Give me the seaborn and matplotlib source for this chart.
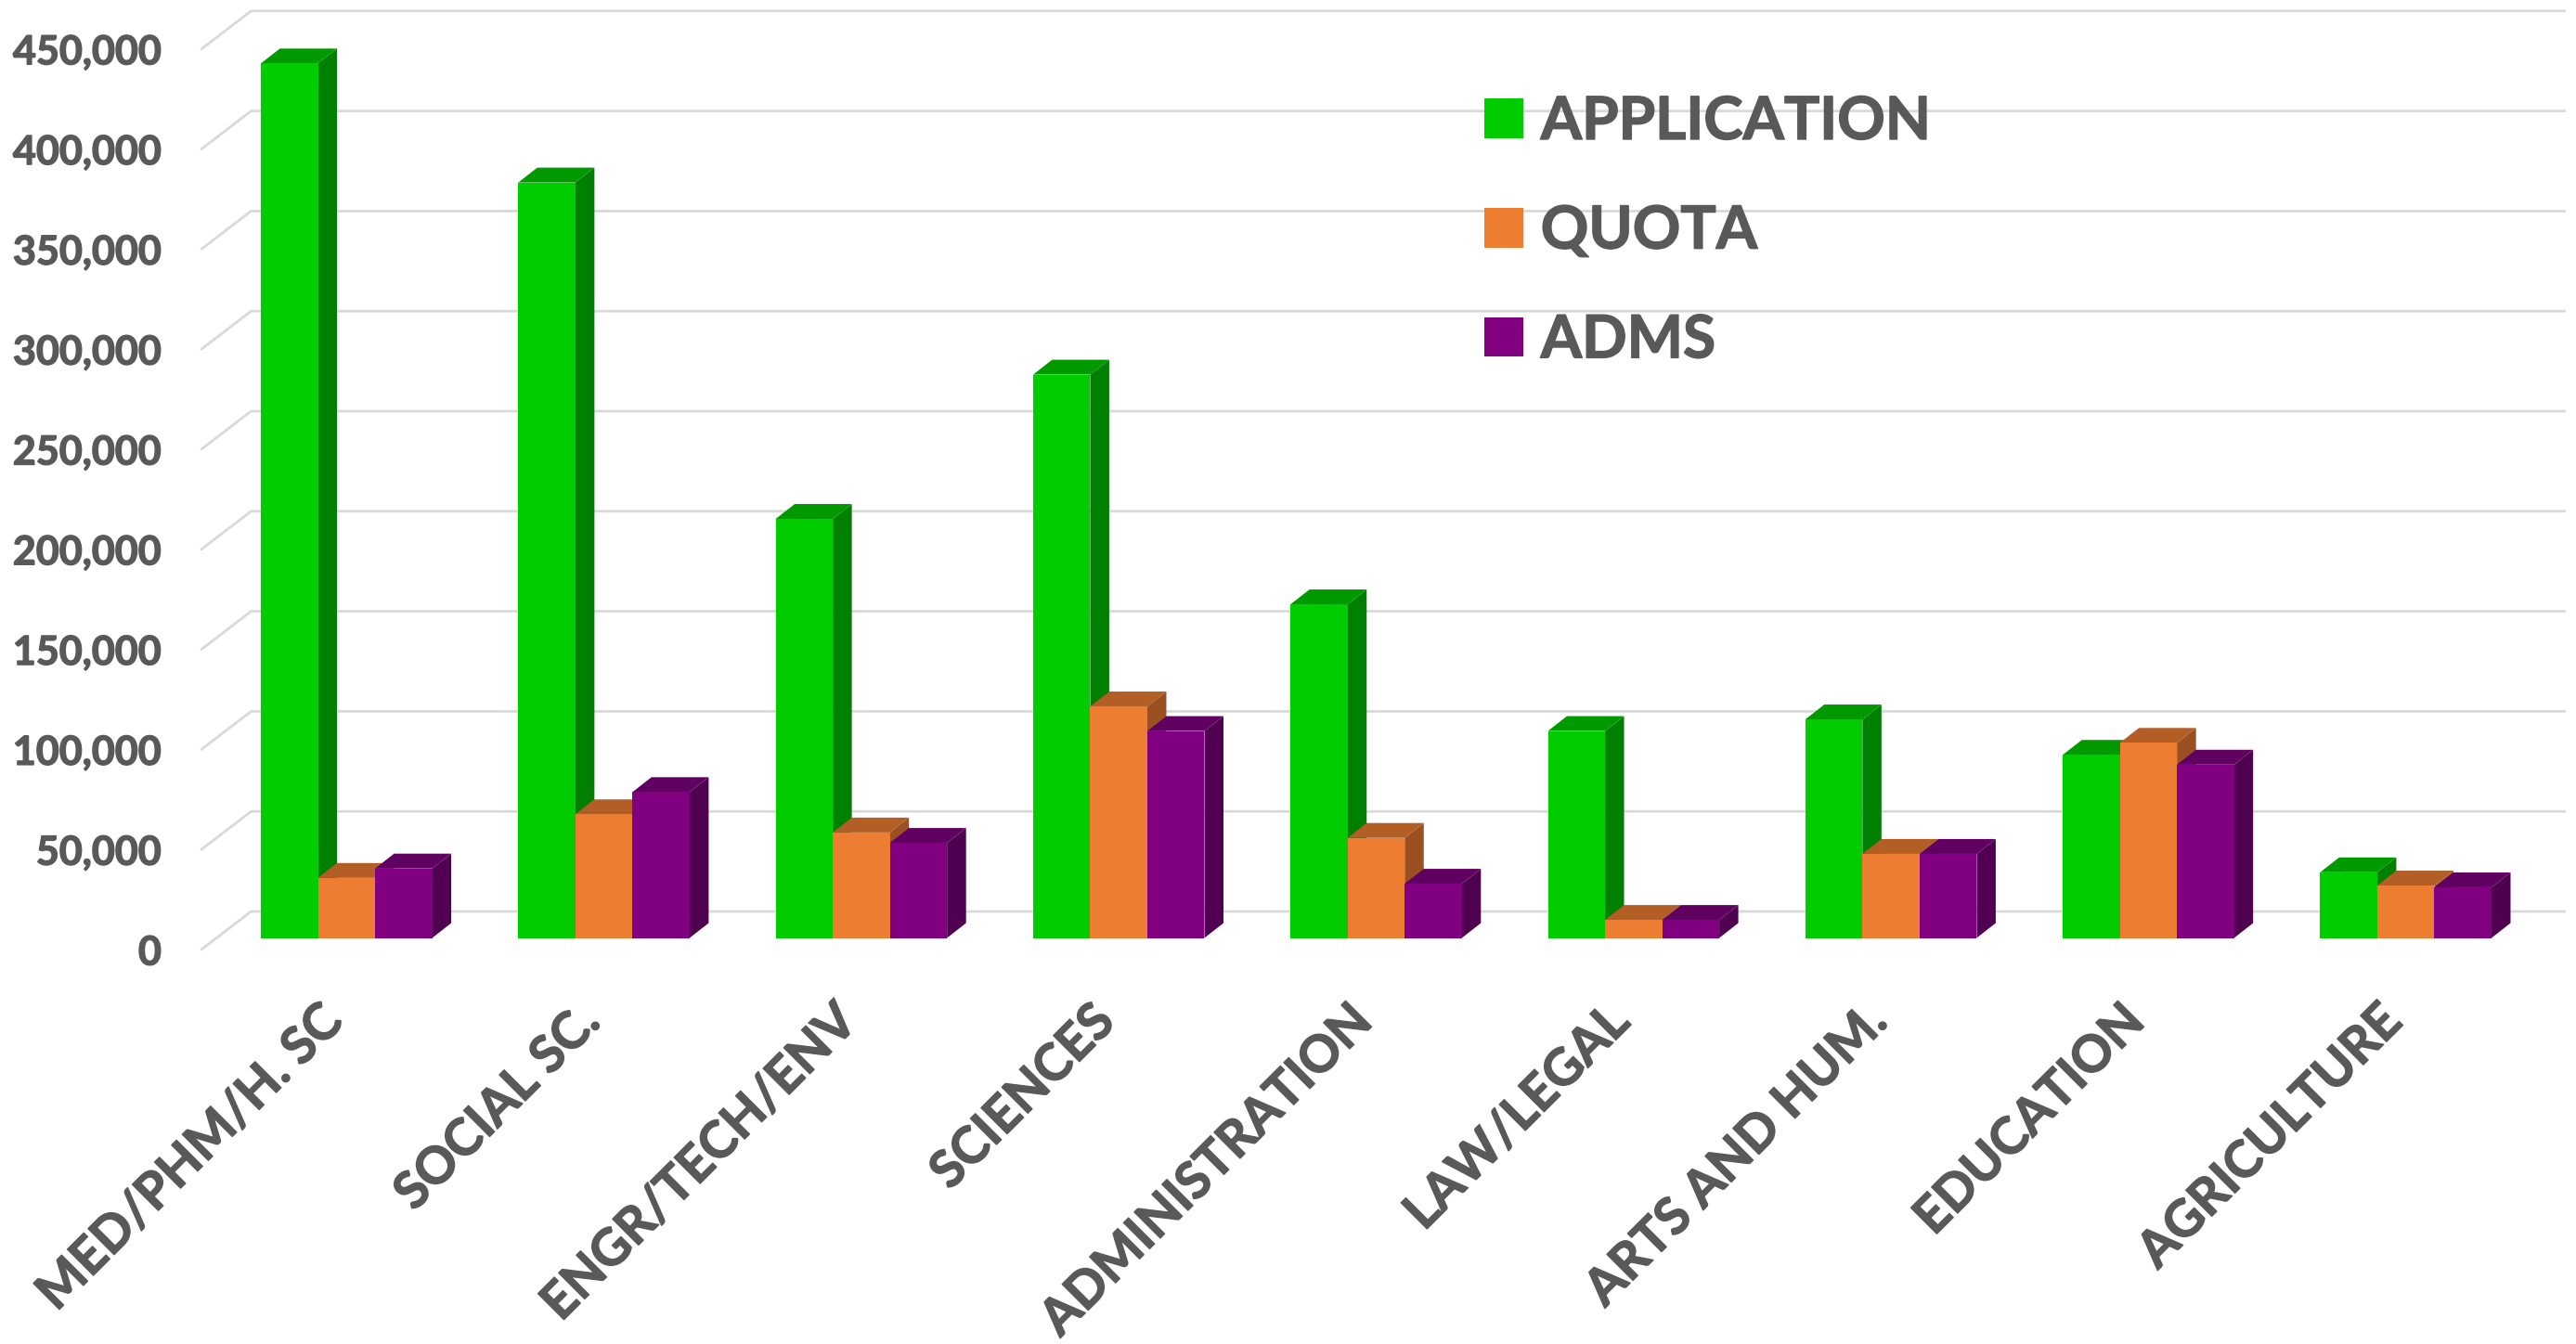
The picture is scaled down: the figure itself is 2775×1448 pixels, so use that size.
import numpy as np
import pandas as pd
import seaborn as sns
from matplotlib import pyplot as plt
from matplotlib.patches import Polygon
from matplotlib.transforms import ScaledTranslation
import matplotlib.patheffects as pe

categories = ["MED/PHM/H. SC", "SOCIAL SC.", "ENGR/TECH/ENV", "SCIENCES", "ADMINISTRATION",
              "LAW/LEGAL", "ARTS AND HUM.", "EDUCATION", "AGRICULTURE"]
application = [437000, 377500, 209400, 281500, 166700, 103400, 109200, 91500, 32800]
quota = [30000, 61800, 52700, 115700, 50000, 9000, 42000, 97500, 26200]
adms = [34700, 72900, 47500, 103400, 27100, 9000, 42000, 86600, 25300]
series_names = ["APPLICATION", "QUOTA", "ADMS"]
y_ticks = [0, 50000, 100000, 150000, 200000, 250000, 300000, 350000, 400000, 450000]

front_cols = ["#00CC00", "#ED7D31", "#800080"]
top_cols = ["#009900", "#B35E25", "#600060"]
side_cols = ["#008000", "#9A5020", "#500050"]
text_col = "#595959"
grid_col = "#D9D9D9"

W, H = 2775, 1448
px_per_cat = 277.3
px_per_val = 107.8 / 50000
base_px = 1010.5   # bar foot, y pixel
first_px = 373.3   # centre of first group

sns.set_theme(style="white")
plt.rcParams["font.family"] = ["Lato", "DejaVu Sans"]

df = pd.DataFrame({"cat": categories, "APPLICATION": application, "QUOTA": quota, "ADMS": adms})
df = df.melt(id_vars="cat", value_vars=series_names, var_name="series", value_name="value")

fig = plt.figure(figsize=(W / 100, H / 100), dpi=100)
left, right, top, bottom = 217, 2763, 5, 1023
ax = fig.add_axes([left / W, 1 - bottom / H, (right - left) / W, (bottom - top) / H])

sns.barplot(data=df, x="cat", y="value", hue="series", order=categories, hue_order=series_names,
            palette=front_cols, saturation=1, width=0.6656, gap=0, ax=ax, linewidth=0)

ax.set_xlim((left - first_px) / px_per_cat, (right - first_px) / px_per_cat)
ax.set_ylim((base_px - bottom) / px_per_val, (base_px - top) / px_per_val)

# depth of the bars and of the back wall, in data units
bar_dx, bar_dy = 20.5 / px_per_cat, 16 / px_per_val
wall_dx, wall_dy = 53.5 / px_per_cat, 41 / px_per_val
front_off = (bottom - base_px) / px_per_val   # wall front edge sits below the bar foot

# gridlines: short slanted bit plus the line along the back wall
for v in y_ticks:
    y0 = v - front_off
    ax.plot([ax.get_xlim()[0], ax.get_xlim()[0] + wall_dx, ax.get_xlim()[1]],
            [y0, y0 + wall_dy, y0 + wall_dy], color=grid_col, lw=2, zorder=1, clip_on=False)

# fake 3d: tops and sides from the drawn bars, left to right
for j, cont in enumerate(ax.containers):
    for bar in cont:
        x0, w, h = bar.get_x(), bar.get_width(), bar.get_height()
        x1 = x0 + w
        ax.add_patch(Polygon([(x1, 0), (x1 + bar_dx, bar_dy), (x1 + bar_dx, h + bar_dy), (x1, h)],
                             facecolor=side_cols[j], edgecolor="none", zorder=3 + 2 * j))
        ax.add_patch(Polygon([(x0, h), (x0 + bar_dx, h + bar_dy), (x1 + bar_dx, h + bar_dy), (x1, h)],
                             facecolor=top_cols[j], edgecolor="none", zorder=3 + 2 * j))
        bar.set_zorder(4 + 2 * j)

heavy = [pe.withStroke(linewidth=1, foreground=text_col)]   # calibri bold looks heavier than lato

ax.set_xlabel("")
ax.set_ylabel("")
ax.set_yticks(np.array(y_ticks) - front_off, [f"{v:,}" for v in y_ticks])
ax.tick_params(axis="y", length=0, pad=31, labelsize=31, labelcolor=text_col)
ax.set_xticks(range(len(categories)), categories)
ax.tick_params(axis="x", length=0, pad=37, labelsize=39.5, labelcolor=text_col)
for t in ax.get_yticklabels():
    t.set_fontweight("bold")
    t.set_path_effects(heavy)
for t in ax.get_xticklabels():
    t.set_fontweight("bold")
    t.set_rotation(45)
    t.set_ha("right")
    t.set_rotation_mode("anchor")
    t.set_path_effects(heavy)
    t.set_transform(t.get_transform() + ScaledTranslation(-0.31, 0, fig.dpi_scale_trans))
sns.despine(ax=ax, left=True, bottom=True)

handles, labels = ax.get_legend_handles_labels()
leg = ax.legend(handles, labels, loc="upper left",
                bbox_to_anchor=((1599 - left) / (right - left), 1 - (103 - top) / (bottom - top)),
                frameon=False, prop={"size": 46, "weight": "bold"}, labelcolor=text_col, handlelength=0.65,
                handleheight=0.65, handletextpad=0.3, labelspacing=0.95, borderpad=0, borderaxespad=0)
for t in leg.get_texts():
    t.set_path_effects(heavy)

plt.savefig("out.png", dpi=100)
